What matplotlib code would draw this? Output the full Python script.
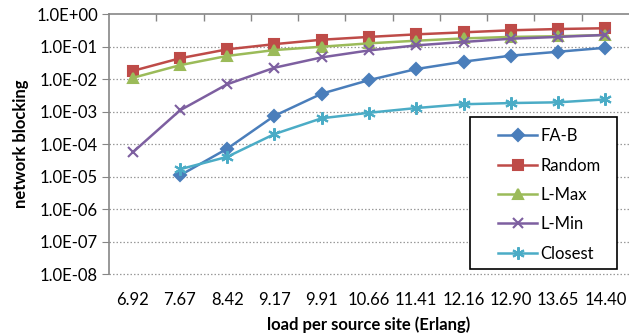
import matplotlib
matplotlib.use('Agg')
import matplotlib.pyplot as plt
from matplotlib.patches import Rectangle
from matplotlib.ticker import FixedLocator, FuncFormatter, NullFormatter
import numpy as np

plt.rcParams['font.family'] = ['Lato', 'DejaVu Sans']

loads = ['6.92', '7.67', '8.42', '9.17', '9.91', '10.66', '11.41',
         '12.16', '12.90', '13.65', '14.40']

# blocking probability per strategy (None = no blocking observed)
fa_b = [None, 1.1e-5, 7.3e-5, 7.5e-4, 3.6e-3, 9.4e-3, 2.06e-2,
        3.47e-2, 5.3e-2, 7.0e-2, 9.3e-2]
random_sel = [1.8e-2, 4.4e-2, 8.3e-2, 1.2e-1, 1.64e-1, 2.0e-1, 2.4e-1,
              2.77e-1, 3.2e-1, 3.5e-1, 3.7e-1]
l_max = [1.1e-2, 2.7e-2, 5.2e-2, 7.9e-2, 1.0e-1, 1.27e-1, 1.53e-1,
         1.8e-1, 2.0e-1, 2.1e-1, 2.3e-1]
l_min = [5.6e-5, 1.1e-3, 7.0e-3, 2.26e-2, 4.7e-2, 7.7e-2, 1.1e-1,
         1.4e-1, 1.76e-1, 2.0e-1, 2.3e-1]
closest = [None, 1.7e-5, 4.1e-5, 2.06e-4, 6.3e-4, 9.3e-4, 1.3e-3,
           1.7e-3, 1.85e-3, 1.95e-3, 2.4e-3]

series = [
    ('FA-B', fa_b, '#4A7EBB', 'D', 6.5),
    ('Random', random_sel, '#BE4B48', 's', 7.5),
    ('L-Max', l_max, '#9BBB59', '^', 7.5),
    ('L-Min', l_min, '#7D5FA0', 'x', 7),
    ('Closest', closest, '#4BACC6', (6, 2, 0), 9),
]

fig = plt.figure(figsize=(6.29, 3.34), dpi=100)
ax = fig.add_axes([109 / 629, 1 - 274.3 / 334, 520 / 629, 260.1 / 334])

x = np.arange(len(loads))
handles = []
for name, vals, color, marker, ms in series:
    y = np.array([np.nan if v is None else v for v in vals], dtype=float)
    h, = ax.plot(x, y, color=color, lw=1.8, marker=marker, ms=ms,
                 mfc=color, mec=color, mew=1.5, label=name, clip_on=False)
    handles.append(h)

ax.set_yscale('log')
ax.set_ylim(1e-8, 1)
ax.set_xlim(-0.5, len(loads) - 0.5)

decades = [10.0 ** k for k in range(-8, 1)]
ax.yaxis.set_major_locator(FixedLocator(decades))
ax.yaxis.set_minor_formatter(NullFormatter())
ax.yaxis.set_minor_locator(FixedLocator([]))
ax.yaxis.set_major_formatter(FuncFormatter(lambda v, p: f'{v:.1E}'))

ax.set_xticks(x)
ax.set_xticklabels(loads)
ax.set_xticks(np.arange(len(loads) - 1) + 0.5, minor=True)
ax.tick_params(axis='x', which='major', length=0, pad=13, labelsize=12)
ax.tick_params(axis='x', which='minor', top=True, bottom=False,
               direction='in', length=5, color='#868686', width=1)
ax.tick_params(axis='y', which='major', length=5, color='#868686',
               labelsize=12, pad=3)

for side in ('bottom', 'right'):
    ax.spines[side].set_visible(False)
for side in ('left', 'top'):
    ax.spines[side].set_color('#868686')
    ax.spines[side].set_linewidth(1.2)

for d in decades[:-1]:
    ax.axhline(d, color='#9a9a9a', lw=0.9, ls=(0, (1.2, 1.6)), zorder=0,
               clip_on=False)

ax.set_ylabel('network blocking', fontsize=12, fontweight='bold', labelpad=5)
ax.set_xlabel('load per source site (Erlang)', fontsize=12,
              fontweight='bold', labelpad=6)

# legend with a square black frame
fig.patches.append(Rectangle((470 / 629, 1 - 269 / 334), 147 / 629, 152 / 334,
                             transform=fig.transFigure, fill=True,
                             facecolor='white', edgecolor='black', lw=1.2,
                             zorder=5))
leg = fig.legend(handles=handles, loc='upper left',
                 bbox_to_anchor=(490 / 629, 1 - 120 / 334), frameon=False,
                 fontsize=12, handlelength=2.3, handletextpad=0.2,
                 labelspacing=0.8, borderpad=0)
leg.set_zorder(6)

fig.savefig('out.png', dpi=100)
